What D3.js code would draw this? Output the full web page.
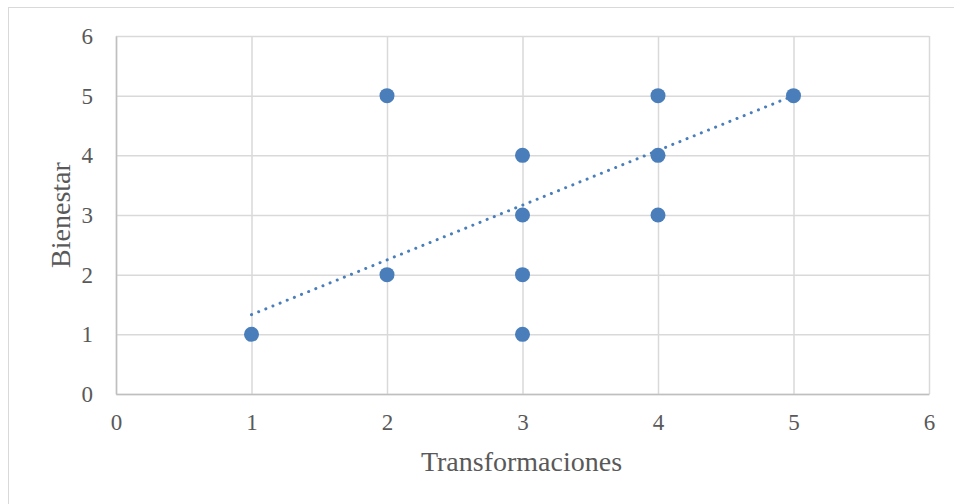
<!DOCTYPE html>
<html>
<head>
<meta charset="utf-8">
<script src="https://cdn.jsdelivr.net/npm/d3@7"></script>
<style>
  body { margin: 0; background: #fff; }
  text { font-family: "Liberation Serif", "DejaVu Serif", serif; fill: #595959; }
</style>
</head>
<body>
<div id="chart"></div>
<script>
// data
const xValues = [1, 2, 2, 3, 3, 3, 3, 4, 4, 4, 5];
const yValues = [1, 5, 2, 4, 3, 2, 1, 5, 4, 3, 5];
const trendX = [1, 5];
const trendY = [1.33, 5];
const ticks = [0, 1, 2, 3, 4, 5, 6];

const w = 954, h = 504;
const padLeft = 116, padRight = 929, padTop = 36, padBottom = 394;

const svg = d3.select("#chart").append("svg")
  .attr("width", w).attr("height", h);

// outer chart border
svg.append("rect")
  .attr("x", 8.5).attr("y", 7.5)
  .attr("width", w - 8).attr("height", h)
  .attr("fill", "none").attr("stroke", "#d9d9d9");

const xScale = d3.scaleLinear().domain([0, 6]).range([padLeft, padRight]);
const yScale = d3.scaleLinear().domain([0, 6]).range([padBottom, padTop]);

// gridlines
svg.append("g")
  .attr("transform", "translate(0," + padBottom + ")")
  .call(d3.axisBottom(xScale).tickValues(ticks).tickSize(-(padBottom - padTop)).tickFormat(""))
  .call(g => g.select(".domain").remove())
  .selectAll("line").attr("stroke", "#d9d9d9").attr("stroke-width", 1.5);
svg.append("g")
  .attr("transform", "translate(" + padLeft + ",0)")
  .call(d3.axisLeft(yScale).tickValues(ticks).tickSize(-(padRight - padLeft)).tickFormat(""))
  .call(g => g.select(".domain").remove())
  .selectAll("line").attr("stroke", "#d9d9d9").attr("stroke-width", 1.5);

// axes
const xAxis = svg.append("g")
  .attr("transform", "translate(0," + padBottom + ")")
  .call(d3.axisBottom(xScale).tickValues(ticks).tickFormat(d3.format("d")).tickSize(0).tickPadding(20));
xAxis.select(".domain").attr("stroke", "#bfbfbf").attr("stroke-width", 1.5);
xAxis.selectAll("text").attr("font-size", 23).style("font-family", "Liberation Serif").attr("fill", "#595959");

const yAxis = svg.append("g")
  .attr("transform", "translate(" + padLeft + ",0)")
  .call(d3.axisLeft(yScale).tickValues(ticks).tickFormat(d3.format("d")).tickSize(0).tickPadding(23));
yAxis.select(".domain").attr("stroke", "#bfbfbf").attr("stroke-width", 1.5);
yAxis.selectAll("text").attr("font-size", 23).style("font-family", "Liberation Serif").attr("fill", "#595959");

// points
svg.selectAll("circle.pt")
  .data(xValues.map((x, i) => [x, yValues[i]]))
  .enter().append("circle")
  .attr("class", "pt")
  .attr("cx", d => xScale(d[0]))
  .attr("cy", d => yScale(d[1]))
  .attr("r", 7.5)
  .attr("fill", "#4a7ebb");

// trendline
svg.append("path")
  .datum(trendX.map((x, i) => [x, trendY[i]]))
  .attr("d", d3.line().x(d => xScale(d[0])).y(d => yScale(d[1])))
  .attr("fill", "none")
  .attr("stroke", "#4a7ebb")
  .attr("stroke-width", 3)
  .attr("stroke-linecap", "round")
  .attr("stroke-dasharray", "0.1 7.6");

// axis titles
svg.append("text")
  .attr("x", (padLeft + padRight) / 2 - 1).attr("y", 471)
  .attr("text-anchor", "middle").attr("font-size", 28)
  .text("Transformaciones");
svg.append("g")
  .attr("transform", "translate(70," + (padTop + padBottom) / 2 + ")")
  .append("text")
  .attr("transform", "rotate(-90)")
  .attr("text-anchor", "middle").attr("font-size", 28)
  .text("Bienestar");
</script>
</body>
</html>
